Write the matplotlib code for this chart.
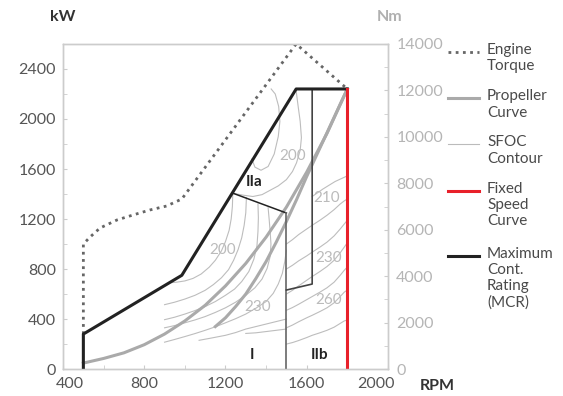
import matplotlib.pyplot as plt
from matplotlib.lines import Line2D
from matplotlib.ticker import MultipleLocator
import matplotlib.transforms as mtrans

plt.rcParams['font.family'] = ['Lato', 'DejaVu Sans']

# engine torque envelope (dotted), drawn on the kW scale
torque_rpm = [500, 500, 533, 582, 665, 744, 827, 910, 985, 1548, 1800]
torque_kw = [280, 1000, 1056, 1128, 1192, 1232, 1272, 1304, 1360, 2600, 2240]

# maximum continuous rating
mcr_rpm = [500, 500, 985, 1548, 1800]
mcr_kw = [0, 280, 750, 2240, 2240]

# fixed speed
fixed_rpm = [1800, 1800]
fixed_kw = [0, 2240]

# propeller curves
prop_rpm = [500, 600, 700, 800, 900, 1000, 1100, 1200, 1300, 1400, 1500, 1600, 1700, 1800]
prop_kw = [48, 85, 130, 195, 280, 385, 510, 665, 845, 1055, 1295, 1575, 1885, 2240]
prop2_rpm = [1150, 1200, 1250, 1300, 1350, 1400, 1450, 1500, 1550, 1600, 1650, 1700, 1750, 1800]
prop2_kw = [340, 410, 500, 600, 725, 860, 1015, 1180, 1355, 1540, 1715, 1890, 2065, 2240]

# region boundaries
iia_rpm = [1234, 1500]
iia_kw = [1408, 1248]
reg1_rpm = [1500, 1500]
reg1_kw = [0, 1248]
iib_rpm = [1500, 1627, 1627]
iib_kw = [632, 680, 2240]

# SFOC contour lines (rpm, kW)
sfoc_lines = [
    # region I
    ([925, 960, 1000, 1040, 1080, 1120, 1150, 1180, 1200, 1218, 1228, 1234, 1236],
     [690, 695, 705, 725, 760, 815, 870, 945, 1020, 1110, 1200, 1300, 1405]),
    ([900, 950, 1000, 1050, 1100, 1140, 1180, 1215, 1240, 1262, 1280, 1292, 1300, 1303],
     [515, 535, 560, 590, 630, 675, 730, 795, 870, 955, 1050, 1150, 1250, 1370]),
    ([900, 950, 1000, 1050, 1100, 1150, 1200, 1245, 1280, 1315, 1340, 1355, 1360, 1362, 1360],
     [395, 415, 440, 468, 500, 540, 590, 640, 700, 780, 880, 985, 1100, 1210, 1320]),
    ([900, 950, 1000, 1050, 1100, 1150, 1200, 1250, 1300, 1345, 1380, 1405, 1420, 1424, 1420, 1415, 1410],
     [330, 348, 370, 393, 420, 453, 490, 535, 590, 650, 720, 805, 900, 1000, 1100, 1200, 1290]),
    ([900, 950, 1000, 1050, 1100, 1150, 1200, 1250, 1300, 1350, 1400, 1435, 1460, 1480, 1492, 1500],
     [215, 237, 260, 284, 310, 338, 370, 403, 440, 487, 540, 605, 680, 765, 860, 950]),
    ([1070, 1130, 1200, 1250, 1300, 1350, 1400, 1450, 1500],
     [230, 248, 270, 292, 320, 340, 360, 380, 400]),
    ([1300, 1350, 1400, 1450, 1500], [285, 290, 300, 310, 320]),
    # regions IIa / IIb, right of 1500 rpm
    ([1500, 1530, 1560, 1600, 1627, 1665, 1700, 1735, 1765, 1785, 1800],
     [1000, 1035, 1075, 1120, 1150, 1190, 1230, 1275, 1320, 1345, 1360]),
    ([1500, 1530, 1560, 1600, 1627, 1665, 1700, 1735, 1765, 1785, 1800],
     [800, 830, 865, 905, 935, 975, 1015, 1065, 1120, 1160, 1190]),
    ([1500, 1530, 1560, 1600, 1627, 1665, 1700, 1735, 1765, 1785, 1800],
     [600, 630, 665, 710, 740, 780, 820, 870, 930, 975, 1010]),
    ([1500, 1530, 1560, 1600, 1627, 1665, 1700, 1735, 1765, 1785, 1800],
     [470, 492, 518, 555, 580, 615, 650, 695, 750, 790, 816]),
    ([1500, 1530, 1560, 1600, 1627, 1665, 1700, 1735, 1765, 1785, 1800],
     [330, 352, 378, 410, 430, 460, 490, 530, 580, 615, 632]),
    ([1500, 1530, 1560, 1600, 1627, 1665, 1700, 1735, 1765, 1785, 1800],
     [200, 212, 228, 252, 270, 290, 310, 335, 365, 385, 392]),
    ([1627, 1680, 1740, 1800], [1380, 1440, 1500, 1545]),
    # region IIa loops
    ([1330, 1345, 1375, 1410, 1440, 1460, 1468, 1462, 1445, 1425],
     [1680, 1615, 1590, 1620, 1720, 1860, 1980, 2100, 2200, 2240]),
    ([1240, 1290, 1335, 1380, 1420, 1460, 1500, 1530, 1550, 1568, 1574, 1568, 1558, 1548],
     [1405, 1390, 1380, 1395, 1430, 1465, 1515, 1580, 1650, 1750, 1850, 1980, 2100, 2225]),
]

sfoc_labels = ['200', '200', '210', '230', '230', '260']
sfoc_label_rpm = [1185, 1529, 1700, 1710, 1357, 1710]
sfoc_label_kw = [952, 1700, 1368, 888, 496, 552]

region_labels = ['IIa', 'I', 'IIb']
region_rpm = [1342, 1333, 1661]
region_kw = [1496, 112, 112]

legend_names = ['Engine\nTorque', 'Propeller\nCurve', 'SFOC\nContour', 'Fixed\nSpeed\nCurve',
                'Maximum\nCont.\nRating\n(MCR)']

fig = plt.figure(figsize=(5.63, 3.96), dpi=100)
ax = fig.add_axes([0.112, 0.068, 0.577, 0.821])
ax2 = ax.twinx()

for xs, ys in sfoc_lines:
    ax.plot(xs, ys, color='#bdbdbd', lw=0.8, zorder=2)

ax.plot(prop_rpm, prop_kw, color='#aaaaaa', lw=2.2, zorder=3)
ax.plot(prop2_rpm, prop2_kw, color='#aaaaaa', lw=2.2, zorder=3)
ax.plot(torque_rpm, torque_kw, color='#666666', lw=2, ls=(0, (1, 1.6)), zorder=4)
ax.plot(iia_rpm, iia_kw, color='#222222', lw=1.1, zorder=4)
ax.plot(reg1_rpm, reg1_kw, color='#666666', lw=1.2, zorder=4)
ax.plot(iib_rpm, iib_kw, color='#444444', lw=1.2, zorder=4)
ax.plot(mcr_rpm, mcr_kw, color='#222222', lw=2.2, zorder=5)
ax.plot(fixed_rpm, fixed_kw, color='#e8202a', lw=2.2, zorder=6)

for t, x, y in zip(sfoc_labels, sfoc_label_rpm, sfoc_label_kw):
    ax.text(x, y, t, color='#bbbbbb', fontsize=11, ha='center', va='center', zorder=3)
for t, x, y in zip(region_labels, region_rpm, region_kw):
    ax.text(x, y, t, color='#222222', fontsize=11, fontweight='bold', ha='center', va='center', zorder=6)

ax.set_xlim(400, 2000)
ax.set_ylim(0, 2600)
ax2.set_ylim(0, 14000)

ax.xaxis.set_major_locator(MultipleLocator(400))
ax.xaxis.set_minor_locator(MultipleLocator(200))
ax.yaxis.set_major_locator(MultipleLocator(400))
ax.yaxis.set_minor_locator(MultipleLocator(200))
ax2.yaxis.set_major_locator(MultipleLocator(2000))
ax2.yaxis.set_minor_locator(MultipleLocator(1000))

for a in (ax, ax2):
    for s in a.spines.values():
        s.set_color('#cccccc')
        s.set_linewidth(1)
ax.tick_params(axis='both', which='both', direction='in', color='#cccccc', length=3,
               labelsize=11.5, labelcolor='#555555', pad=5)
ax.tick_params(axis='x', pad=6)
ax2.tick_params(axis='y', which='both', direction='in', color='#cccccc', length=3,
                labelsize=11.5, labelcolor='#b5b5b5', pad=6)

# nudge end labels of the rpm axis like the original
for lab, v in zip(ax.get_xticklabels(), ax.get_xticks()):
    if v == 400:
        lab.set_transform(lab.get_transform() + mtrans.ScaledTranslation(0.07, 0, fig.dpi_scale_trans))
    if v == 2000:
        lab.set_transform(lab.get_transform() + mtrans.ScaledTranslation(-0.12, 0, fig.dpi_scale_trans))

fig.text(63 / 563, 1 - 17 / 396, 'kW', fontsize=11.5, fontweight='bold', color='#333333', ha='center', va='center')
fig.text(390 / 563, 1 - 17 / 396, 'Nm', fontsize=11.5, fontweight='bold', color='#b0b0b0', ha='center', va='center')
fig.text(420 / 563, 1 - 386 / 396, 'RPM', fontsize=11.5, fontweight='bold', color='#333333', ha='left', va='center')

# legend: handle sits beside the first line of each label
handle_styles = [
    dict(color='#666666', lw=2, ls=(0, (1, 1.6))),
    dict(color='#aaaaaa', lw=2.2),
    dict(color='#bbbbbb', lw=0.8),
    dict(color='#e8202a', lw=2.2),
    dict(color='#222222', lw=2.2),
]
line_px = 18.7
y = 52
for name, st in zip(legend_names, handle_styles):
    yf = 1 - y / 396
    fig.add_artist(Line2D([448 / 563, 479 / 563], [yf, yf], transform=fig.transFigure, **st))
    fig.text(487 / 563, 1 - (y - 9) / 396, name, fontsize=11, color='#4a4a4a', ha='left', va='top',
             linespacing=1.22)
    y += line_px * name.count('\n') + 27.5

fig.savefig('out.png', dpi=100)
